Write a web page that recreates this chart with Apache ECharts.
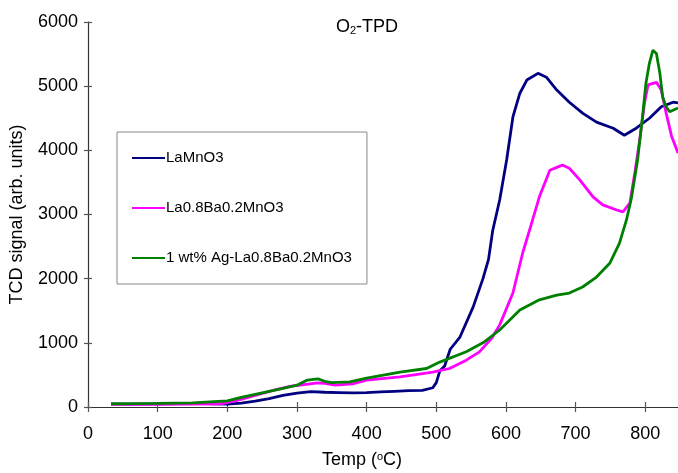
<!DOCTYPE html>
<html>
<head>
<meta charset="utf-8">
<script src="https://cdn.jsdelivr.net/npm/echarts@6/dist/echarts.min.js"></script>
<style>
html,body{margin:0;padding:0;background:#fff;}
#chart{width:678px;height:473px;}
</style>
</head>
<body>
<div id="chart"></div>
<script>
const seriesNames = ['LaMnO3', 'La0.8Ba0.2MnO3', '1 wt% Ag-La0.8Ba0.2MnO3'];

const tempLaMnO3 = [33,60,100,150,180,200,220,240,260,280,300,320,340,360,380,400,420,440,460,480,495,500,505,512,520,534,553,567,575,581,591,601,610,620,630,646,658,673,691,710,730,754,770,787,806,823,840,847];
const sigLaMnO3  = [50,45,50,55,50,45,60,90,130,180,215,240,230,225,220,225,235,245,255,260,300,380,560,640,900,1090,1560,2000,2300,2750,3225,3850,4520,4890,5095,5200,5140,4940,4750,4580,4440,4345,4235,4345,4500,4680,4750,4740];

const tempLaBa = [33,100,150,190,210,230,250,270,290,310,330,340,355,380,400,448,495,519,543,562,580,591,610,624,637,648,663,681,691,706,725,739,759,768,778,785,792,799,804,816,823,830,838,847];
const sigLaBa  = [40,40,45,50,90,150,210,270,320,350,375,370,340,360,420,470,545,600,730,860,1080,1280,1776,2400,2870,3275,3690,3770,3720,3540,3275,3150,3070,3040,3180,3650,4160,4740,5020,5060,4940,4580,4210,3960];

const tempAg = [33,100,150,200,220,250,280,300,315,330,340,350,376,400,448,486,505,543,567,591,620,648,673,691,710,730,749,763,773,780,789,796,801,806,811,816,821,825,830,835,847];
const sigAg  = [50,55,65,95,150,220,290,340,420,440,400,380,390,450,545,600,700,860,1000,1200,1510,1670,1745,1776,1870,2025,2240,2555,2915,3250,3850,4520,5050,5360,5560,5510,5200,4830,4680,4600,4660];

const xTicks = [0,100,200,300,400,500,600,700,800];
const yTicks = [0,1000,2000,3000,4000,5000,6000];

const colors = ['#000080', '#ff00ff', '#008000'];

function zip(a, b) { return a.map((v, i) => [v, b[i]]); }

const FONT = '"Liberation Sans", Arial, sans-serif';
const chart = echarts.init(document.getElementById('chart'));

const option = {
  animation: false,
  backgroundColor: '#fff',
  textStyle: { fontFamily: FONT },
  title: {
    text: '{m|O}{sub|2}{m|-TPD}',
    left: 331, top: 13,
    textStyle: {
      fontFamily: FONT, fontSize: 18, fontWeight: 'normal', color: '#000',
      rich: {
        m: { fontFamily: FONT, fontSize: 18, lineHeight: 18, verticalAlign: 'top', color: '#000' },
        sub: { fontFamily: FONT, fontSize: 11, lineHeight: 12, padding: [8, 0, 0, 0], verticalAlign: 'bottom', color: '#000' }
      }
    }
  },
  legend: {
    orient: 'vertical',
    left: 117, top: 132,
    padding: [18, 15, 18, 15],
    itemGap: 34,
    itemWidth: 33, itemHeight: 2,
    icon: 'rect',
    borderColor: '#888', borderWidth: 1,
    backgroundColor: '#fff',
    textStyle: { fontFamily: FONT, fontSize: 15, color: '#000', lineHeight: 16, padding: [0,0,0,-4] },
    data: seriesNames
  },
  grid: { left: 88, right: 0, top: 22, bottom: 66, containLabel: false, outerBoundsMode: 'none' },
  xAxis: [{
    type: 'value', min: 0, max: 847, interval: 100,
    name: 'Temp ({sup|o}C)', nameLocation: 'middle', nameGap: 44,
    nameTextStyle: {
      fontFamily: FONT, fontSize: 18, color: '#000', padding: [0, 42, 0, 0],
      rich: { sup: { fontFamily: FONT, fontSize: 11, verticalAlign: 'top', color: '#000' } }
    },
    axisLine: { show: true, lineStyle: { color: '#333', width: 1.2 } },
    axisTick: { show: true, length: 5, customValues: xTicks, lineStyle: { color: '#555', width: 1.2 } },
    axisLabel: { customValues: xTicks, formatter: v => String(v), fontFamily: FONT, fontSize: 18, color: '#000', margin: 18 },
    splitLine: { show: false }
  }, {
    type: 'value', min: 0, max: 847, interval: 100, position: 'bottom', gridIndex: 0,
    axisLine: { show: false },
    axisTick: { show: true, inside: true, length: 5, customValues: xTicks, lineStyle: { color: '#555', width: 1.2 } },
    axisLabel: { show: false },
    splitLine: { show: false }
  }],
  yAxis: [{
    type: 'value', min: 0, max: 6000, interval: 1000,
    name: 'TCD signal (arb. units)', nameLocation: 'middle', nameGap: 62,
    nameTextStyle: { fontFamily: FONT, fontSize: 18, color: '#000' },
    axisLine: { show: true, lineStyle: { color: '#333', width: 1.2 } },
    axisTick: { show: true, length: 4, customValues: yTicks, lineStyle: { color: '#555', width: 1.2 } },
    axisLabel: { customValues: yTicks, formatter: v => String(v), fontFamily: FONT, fontSize: 18, color: '#000', margin: 10 },
    splitLine: { show: false }
  }, {
    type: 'value', min: 0, max: 6000, interval: 1000, position: 'left',
    axisLine: { show: false },
    axisTick: { show: true, inside: true, length: 4, customValues: yTicks, lineStyle: { color: '#555', width: 1.2 } },
    axisLabel: { show: false },
    splitLine: { show: false }
  }],
  series: [
    { name: seriesNames[0], type: 'line', showSymbol: false, data: zip(tempLaMnO3, sigLaMnO3),
      lineStyle: { color: colors[0], width: 2.8 }, itemStyle: { color: colors[0] } },
    { name: seriesNames[1], type: 'line', showSymbol: false, data: zip(tempLaBa, sigLaBa),
      lineStyle: { color: colors[1], width: 2.8 }, itemStyle: { color: colors[1] } },
    { name: seriesNames[2], type: 'line', showSymbol: false, data: zip(tempAg, sigAg),
      lineStyle: { color: colors[2], width: 2.8 }, itemStyle: { color: colors[2] } }
  ]
};
chart.setOption(option);
</script>
</body>
</html>
